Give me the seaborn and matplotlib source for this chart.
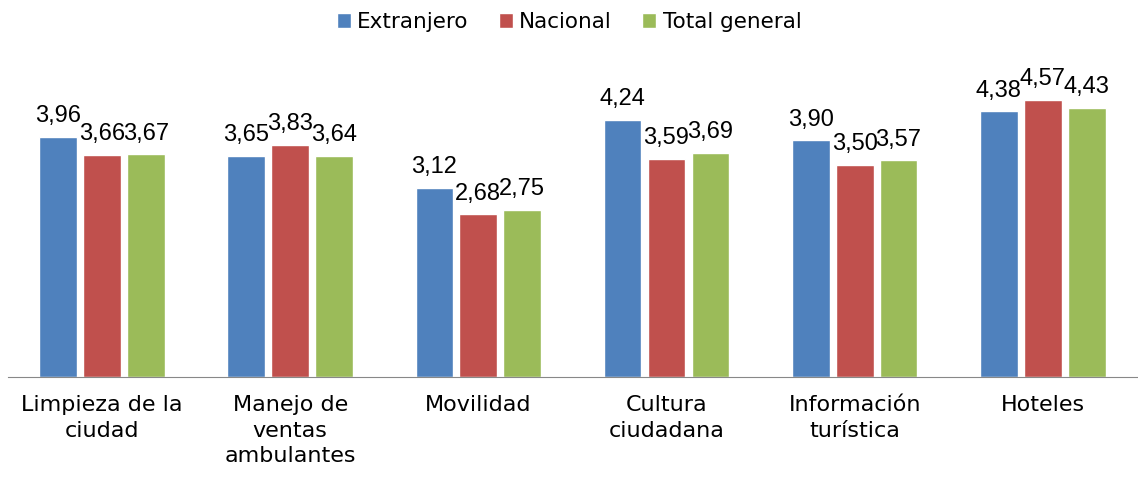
import matplotlib
matplotlib.use("Agg")
import matplotlib.pyplot as plt
import seaborn as sns
import pandas as pd

# datos
categorias = ["Limpieza de la\nciudad", "Manejo de\nventas\nambulantes", "Movilidad",
              "Cultura\nciudadana", "Información\nturística", "Hoteles"]
extranjero = [3.96, 3.65, 3.12, 4.24, 3.90, 4.38]
nacional = [3.66, 3.83, 2.68, 3.59, 3.50, 4.57]
total_general = [3.67, 3.64, 2.75, 3.69, 3.57, 4.43]
series = ["Extranjero", "Nacional", "Total general"]
colores = ["#4F81BD", "#C0504D", "#9BBB59"]

df = pd.DataFrame({
    "categoria": categorias * 3,
    "serie": [s for s in series for _ in categorias],
    "valor": extranjero + nacional + total_general,
})

sns.set_style("white")
plt.rcParams["font.family"] = ["DejaVu Sans"]
plt.rcParams["text.color"] = "black"
plt.rcParams["xtick.color"] = "black"

fig = plt.figure(figsize=(11.38, 4.78), dpi=100)
ax = fig.add_axes([0.007, 0.211, 0.992, 0.635])

sns.barplot(data=df, x="categoria", y="valor", hue="serie", palette=colores,
            width=0.7, gap=0.14, saturation=1, ax=ax, legend=True)

for cont in ax.containers:
    ax.bar_label(cont, labels=[f"{v:.2f}".replace(".", ",") for v in cont.datavalues],
                 padding=7, fontsize=17, family="Liberation Sans", color="black")

ax.set_ylim(0, 5)
ax.set_yticks([])
ax.set_xlabel("")
ax.set_ylabel("")
for s in ["top", "right", "left"]:
    ax.spines[s].set_visible(False)
ax.spines["bottom"].set_color("#888888")
ax.tick_params(axis="x", labelsize=16, length=0, pad=13, labelcolor="black")
for t in ax.get_xticklabels():
    t.set_linespacing(1.35)

handles, labels = ax.get_legend_handles_labels()
ax.get_legend().remove()
fig.legend(handles, labels, loc="upper center", bbox_to_anchor=(0.5, 1.015), ncol=3,
           frameon=False, fontsize=15.5, handlelength=0.65, handleheight=0.65,
           handletextpad=0.3, columnspacing=1.4)

fig.savefig("out.png", dpi=100)
